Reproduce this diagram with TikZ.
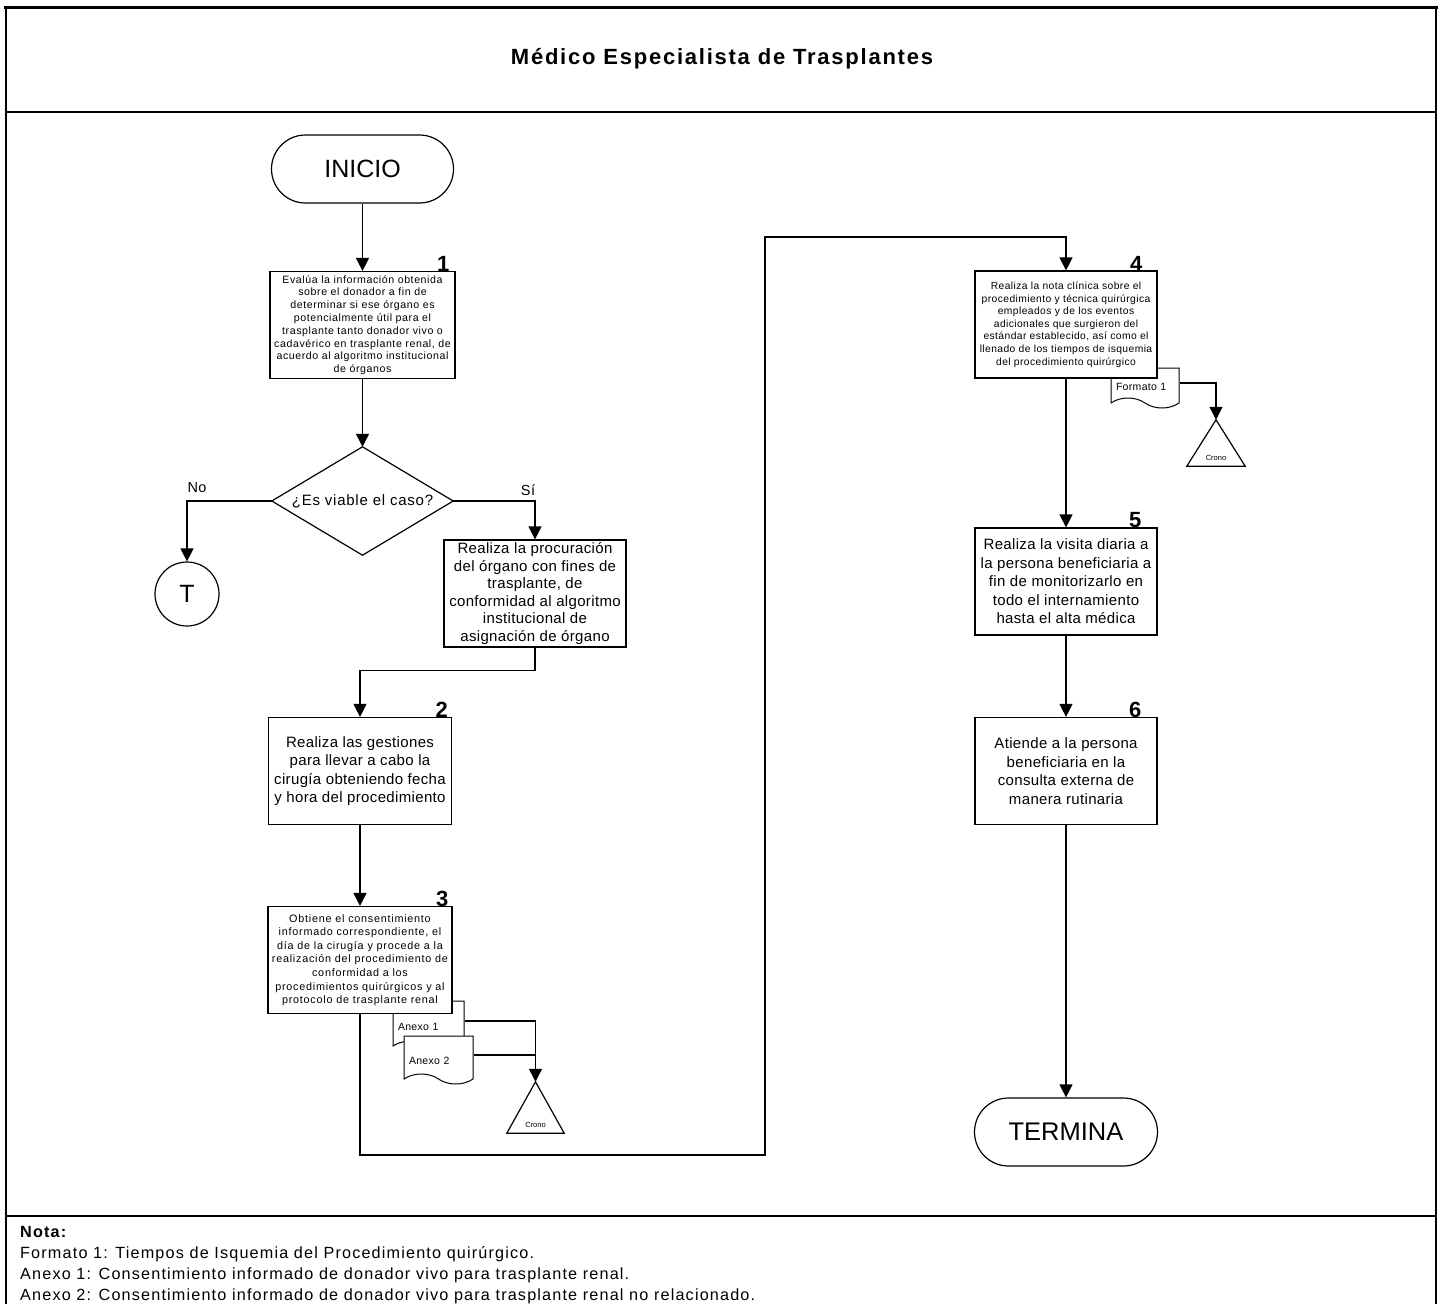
\documentclass[tikz,border=0pt]{standalone}
\usepackage{fontspec}
\setmainfont{Liberation Sans}
\usetikzlibrary{arrows.meta,shapes.symbols,calc}
\begin{document}
\begin{tikzpicture}[x=1pt,y=-1pt,
  every node/.style={inner sep=0pt},
  ln/.style={line width=1.2pt},
  box/.style={draw, line width=1.2pt, fill=white, minimum width=183pt, minimum height=107pt, align=center, font=\fontsize{15}{18.5}\selectfont\addfontfeature{LetterSpace=2.3}},
  sbox/.style={box, font=\fontsize{10.6}{12.8}\selectfont\addfontfeature{LetterSpace=5.5}},
  term/.style={draw, line width=1.2pt, fill=white, rounded corners=34pt, minimum width=182pt, minimum height=68pt, font=\fontsize{25}{28}\selectfont},
  arr/.style={line width=1.2pt, -{Triangle[width=13pt,length=13pt]}},
  num/.style={font=\bfseries\fontsize{22}{24}\selectfont, anchor=south east, inner sep=0pt, yshift=-1pt},
  docnode/.style={tape, tape bend top=none, tape bend bottom=out and in, tape bend height=10pt, draw, line width=1pt, fill=white, align=left, text height=18pt, text depth=0pt, font=\fontsize{10.5}{12}\selectfont\addfontfeature{LetterSpace=3}},
  cronobox/.style={minimum width=57pt, minimum height=48pt, label={[font=\fontsize{7.5}{8}\selectfont, anchor=south, yshift=5pt]south:Crono}},
  small/.style={font=\fontsize{14.5}{16}\selectfont\addfontfeature{LetterSpace=3}},
]
\fill[white] (0,0) rectangle (1441,1304);
\useasboundingbox (0,0) rectangle (1441,1304);

% frame
\draw[line width=1.5pt] (6,1304) -- (6,7) -- (1436,7) -- (1436,1304);
\draw[line width=3pt] (4,7) -- (1438,7);
\draw[line width=1.5pt] (6,112) -- (1436,112);
\draw[line width=2pt] (6,1216) -- (1436,1216);

\node[font=\bfseries\fontsize{22}{24}\selectfont\addfontfeature{LetterSpace=8}] (title) at (722,59) {Médico Especialista de Trasplantes};

% left column
\node[term] (inicio) at (362.5,169) {INICIO};
\node[sbox, minimum width=185pt, label={[num, xshift=-6pt]north east:1}] (b1) at (362.5,325)
  {Evalúa la información obtenida\\sobre el donador a fin de\\determinar si ese órgano es\\potencialmente útil para el\\trasplante tanto donador vivo o\\cadavérico en trasplante renal, de\\acuerdo al algoritmo institucional\\de órganos};
\node[minimum width=181pt, minimum height=108pt, font=\fontsize{15}{18}\selectfont\addfontfeature{LetterSpace=5}] (dec) at (362.5,501) {¿Es viable el caso?};
\draw[ln] (dec.north) -- (dec.east) -- (dec.south) -- (dec.west) -- cycle;
\node[draw, circle, ln, minimum size=64pt, font=\fontsize{25}{26}\selectfont] (t) at (187,594) {T};
\node[small] (no) at (197,488) {No};
\node[small] (si) at (528,490) {Sí};
\node[box, minimum width=182pt, font=\fontsize{15}{17.6}\selectfont\addfontfeature{LetterSpace=2.3}] (proc) at (535,593.5)
  {Realiza la procuración\\del órgano con fines de\\trasplante, de\\conformidad al algoritmo\\institucional de\\asignación de órgano};
\node[box, label={[num, xshift=-4pt]north east:2}] (b2) at (360,771)
  {Realiza las gestiones\\para llevar a cabo la\\cirugía obteniendo fecha\\y hora del procedimiento};

% documents of step 3 (behind box 3)
\node[docnode, minimum width=71pt, text width=61pt, minimum height=50pt] (a1) at (428.5,1021) {Anexo 1};
\node[docnode, minimum width=69pt, text width=59pt, minimum height=48pt] (a2) at (438.5,1055) {Anexo 2};
\node[sbox, minimum width=184pt, font=\fontsize{10.8}{13.6}\selectfont\addfontfeature{LetterSpace=7}, label={[num, xshift=-4pt]north east:3}] (b3) at (360,960)
  {Obtiene el consentimiento\\informado correspondiente, el\\día de la cirugía y procede a la\\realización del procedimiento de\\conformidad a los\\procedimientos quirúrgicos y al\\protocolo de trasplante renal};
\node[cronobox, minimum height=51pt] (cr1) at (535.5,1107.5) {};
\draw[ln] (cr1.north) -- (cr1.south east) -- (cr1.south west) -- cycle;

% right column
\node[docnode, minimum width=68pt, text width=58pt, minimum height=40pt, text height=14pt] (f1) at (1145,383) {Formato 1};
\node[sbox, minimum width=182pt, font=\fontsize{10.3}{12.6}\selectfont\addfontfeature{LetterSpace=4}, label={[num, xshift=-15pt]north east:4}] (b4) at (1066,324.5)
  {Realiza la nota clínica sobre el\\procedimiento y técnica quirúrgica\\empleados y de los eventos\\adicionales que surgieron del\\estándar establecido, así como el\\llenado de los tiempos de isquemia\\del procedimiento quirúrgico};
\node[cronobox, minimum width=58pt, minimum height=46pt] (cr2) at (1216,443) {};
\draw[ln] (cr2.north) -- (cr2.south east) -- (cr2.south west) -- cycle;
\node[box, minimum width=182pt, label={[num, xshift=-16pt]north east:5}] (b5) at (1066,581.5)
  {Realiza la visita diaria a\\la persona beneficiaria a\\fin de monitorizarlo en\\todo el internamiento\\hasta el alta médica};
\node[box, minimum width=182pt, label={[num, xshift=-16pt]north east:6}] (b6) at (1066,771)
  {Atiende a la persona\\beneficiaria en la\\consulta externa de\\manera rutinaria};
\node[term, minimum width=183pt, font=\fontsize{25.5}{28}\selectfont] (fin) at (1066,1132) {TERMINA};

% connectors
\coordinate (c1) at (765,1155);
\coordinate (c2) at (765,237);
\draw[arr] (inicio) -- (b1);
\draw[arr] (b1) -- (dec);
\draw[arr] (dec.west) -| (t.north);
\draw[arr] (dec.east) -| (proc.north);
\draw[arr] (proc.south) -- ++(0,23) -| (b2.north);
\draw[arr] (b2) -- (b3);
\draw[ln] (a2.east) -- (a2.east -| cr1.north);
\draw[arr] (a1.east) -| (cr1.north);
\draw[arr] (b3.south) |- (c1) -- (c2) -| (b4.north);
\draw[arr] (f1.east) -| (cr2.north);
\draw[arr] (b4) -- (b5);
\draw[arr] (b5) -- (b6);
\draw[arr] (b6) -- (fin);

% note
\node[anchor=north west, align=left, font=\fontsize{16.2}{21}\selectfont\addfontfeature{LetterSpace=7.2}] (nota) at (20,1226)
  {\textbf{Nota:}\\
   Formato 1: Tiempos de Isquemia del Procedimiento quirúrgico.\\
   Anexo 1: Consentimiento informado de donador vivo para trasplante renal.\\
   Anexo 2: Consentimiento informado de donador vivo para trasplante renal no relacionado.};
\end{tikzpicture}
\end{document}
